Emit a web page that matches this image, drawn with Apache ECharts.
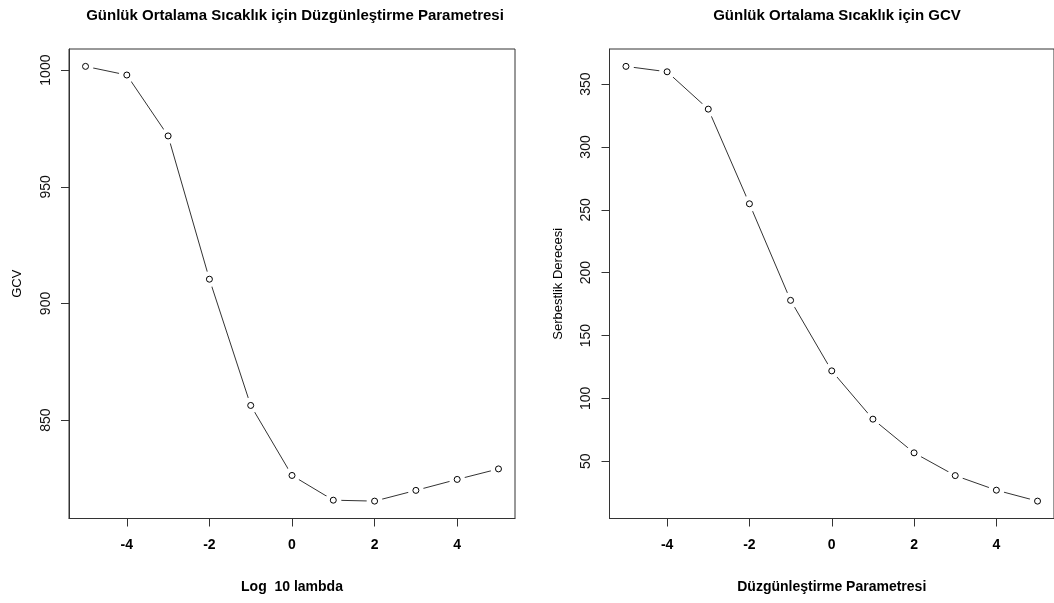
<!DOCTYPE html>
<html>
<head>
<meta charset="utf-8">
<script src="https://cdn.jsdelivr.net/npm/echarts@6/dist/echarts.min.js"></script>
<style>
  html, body { margin: 0; padding: 0; background: #fff; }
  #main { width: 1054px; height: 603px; }
</style>
</head>
<body>
<div id="main"></div>
<script>
// veriler
var logLambda = [-5, -4, -3, -2, -1, 0, 1, 2, 3, 4, 5];
var gcvValues = [1001.6, 997.9, 971.8, 910.4, 856.3, 826.3, 815.7, 815.3, 819.9, 824.6, 829.1];
var dfValues = [364.1, 359.8, 330.1, 254.8, 178, 121.9, 83.5, 56.7, 38.6, 27.0, 18.3];
var xTicks = [-4, -2, 0, 2, 4];
var gcvTicks = [850, 900, 950, 1000];
var dfTicks = [50, 100, 150, 200, 250, 300, 350];

var leftTitle = 'Günlük Ortalama Sıcaklık için Düzgünleştirme Parametresi';
var rightTitle = 'Günlük Ortalama Sıcaklık için GCV';

var narrow = "'Liberation Sans Narrow', 'Arial Narrow', 'Liberation Sans', Arial, sans-serif";
var plain = "'Liberation Sans', Arial, sans-serif";

// R gibi %4 genişletme
function pad(arr) {
  var lo = Math.min.apply(null, arr), hi = Math.max.apply(null, arr);
  var d = (hi - lo) * 0.04;
  return [lo - d, hi + d];
}

function pairs(ys) {
  return logLambda.map(function (x, i) { return [x, ys[i]]; });
}

var xRange = pad(logLambda);

function xAxisOpt(idx, name) {
  return {
    gridIndex: idx,
    type: 'value',
    min: xRange[0],
    max: xRange[1],
    name: name,
    nameLocation: 'middle',
    nameGap: 62,
    nameTextStyle: { fontFamily: narrow, fontWeight: 'bold', fontSize: 14, color: '#000' },
    axisLine: { show: true, onZero: false, lineStyle: { color: '#333', width: 1 } },
    axisTick: { show: true, length: 8, customValues: xTicks, lineStyle: { color: '#333' } },
    axisLabel: { customValues: xTicks, margin: 20, fontFamily: narrow, fontWeight: 'bold', fontSize: 14, color: '#000' },
    splitLine: { show: false }
  };
}

function yAxisOpt(idx, name, data, ticks) {
  var r = pad(data);
  return {
    gridIndex: idx,
    type: 'value',
    min: r[0],
    max: r[1],
    name: name,
    nameLocation: 'middle',
    nameGap: 45,
    nameTextStyle: { fontFamily: plain, fontSize: 13, color: '#000' },
    axisLine: { show: true, onZero: false, lineStyle: { color: '#333', width: 1 } },
    axisTick: { show: true, length: 8, customValues: ticks, lineStyle: { color: '#333' } },
    axisLabel: {
      customValues: ticks, rotate: 90, margin: 16,
      fontFamily: plain, fontSize: 14, color: '#111',
      formatter: function (v) { return String(v); }
    },
    splitLine: { show: false }
  };
}

function seriesFor(idx, ys) {
  var d = pairs(ys);
  return [
    {
      type: 'line', xAxisIndex: idx, yAxisIndex: idx, data: d,
      symbol: 'none', lineStyle: { color: '#333', width: 1 }, z: 2
    },
    {
      // type="b" gibi noktaların çevresinde boşluk
      type: 'scatter', xAxisIndex: idx, yAxisIndex: idx, data: d,
      symbol: 'circle', symbolSize: 16, itemStyle: { color: '#fff', opacity: 1 }, z: 3, silent: true
    },
    {
      type: 'scatter', xAxisIndex: idx, yAxisIndex: idx, data: d,
      symbol: 'circle', symbolSize: 6,
      itemStyle: { color: '#fff', borderColor: '#000', borderWidth: 1, opacity: 1 }, z: 4
    }
  ];
}

var chart = echarts.init(document.getElementById('main'));

var option = {
  animation: false,
  backgroundColor: '#fff',
  title: [
    {
      text: leftTitle, left: 290, top: 3, textAlign: 'center',
      textStyle: { fontFamily: narrow, fontWeight: 'bold', fontSize: 15, color: '#000' }
    },
    {
      text: rightTitle, left: 832, top: 3, textAlign: 'center',
      textStyle: { fontFamily: narrow, fontWeight: 'bold', fontSize: 15, color: '#000' }
    }
  ],
  grid: [
    { left: 69, top: 49, width: 446, height: 469.5, show: true, borderColor: '#333', borderWidth: 1 },
    { left: 609.5, top: 49, width: 446, height: 469.5, show: true, borderColor: '#333', borderWidth: 1 }
  ],
  xAxis: [
    xAxisOpt(0, 'Log  10 lambda'),
    xAxisOpt(1, 'Düzgünleştirme Parametresi')
  ],
  yAxis: [
    yAxisOpt(0, 'GCV', gcvValues, gcvTicks),
    yAxisOpt(1, 'Serbestlik Derecesi', dfValues, dfTicks)
  ],
  series: seriesFor(0, gcvValues).concat(seriesFor(1, dfValues))
};

chart.setOption(option);
</script>
</body>
</html>
